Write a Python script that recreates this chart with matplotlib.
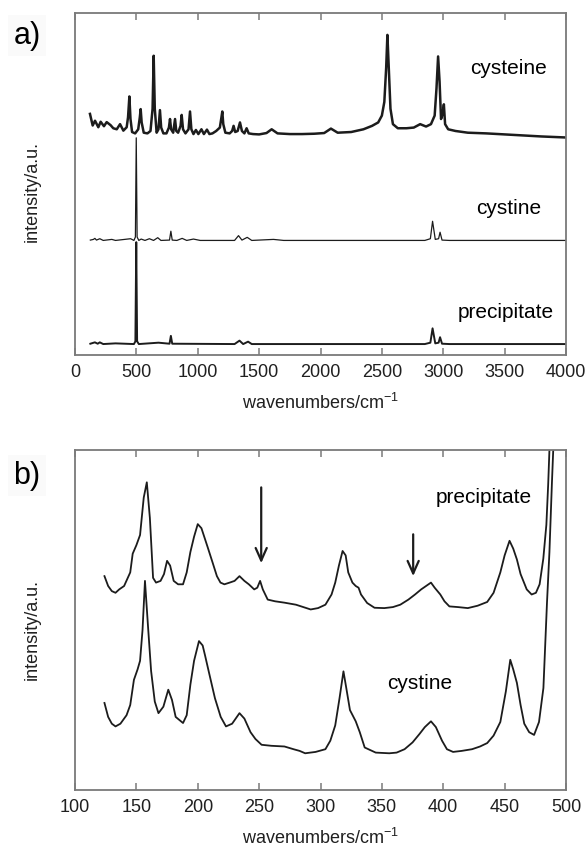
import matplotlib
matplotlib.use("Agg")
import matplotlib.pyplot as plt

plt.rcParams["font.family"] = ["Liberation Sans", "DejaVu Sans"]
plt.rcParams["mathtext.fontset"] = "custom"
plt.rcParams["mathtext.rm"] = "Liberation Sans"

# ---- panel a: full Raman spectra (wavenumber, intensity) ----
cysteine_wn = [122, 144, 163, 190, 209, 236, 258, 290, 312, 340, 367, 394, 421, 432, 443,
               452, 465, 490, 515, 528, 535, 543, 560, 590, 615, 632, 641, 650, 665, 680,
               692, 702, 720, 745, 765, 774, 783, 800, 815, 825, 840, 860, 869, 880, 900,
               925, 937, 948, 965, 985, 1005, 1030, 1050, 1075, 1095, 1120, 1150, 1180,
               1193, 1200, 1208, 1225, 1260, 1280, 1292, 1305, 1325, 1344, 1360, 1380,
               1398, 1415, 1450, 1500, 1560, 1602, 1650, 1750, 1850, 1950, 2030, 2085,
               2140, 2250, 2350, 2420, 2470, 2500, 2520, 2535, 2545, 2555, 2570, 2590,
               2630, 2700, 2760, 2812, 2860, 2900, 2930, 2945, 2958, 2970, 2982, 2995,
               3005, 3015, 3040, 3100, 3200, 3350, 3500, 3650, 3800, 4000]
cysteine_int = [70.5, 67.1, 68.5, 66.6, 68.2, 66.9, 68.1, 67.2, 66.3, 66.0, 67.5, 65.6, 66.6,
                69.5, 75.6, 69.0, 65.2, 64.8, 66.0, 69.5, 71.9, 68.0, 65.0, 64.8, 65.5,
                72.0, 87.5, 72.0, 65.0, 66.0, 71.6, 66.5, 64.8, 64.8, 66.5, 69.0, 66.0,
                65.0, 69.0, 65.5, 65.0, 67.0, 70.2, 66.0, 64.8, 66.0, 71.2, 66.0, 64.6,
                65.8, 64.6, 66.0, 64.6, 65.9, 64.6, 64.8, 65.5, 66.5, 69.5, 71.2, 67.5,
                65.0, 64.8, 65.5, 67.0, 65.2, 65.5, 68.0, 65.5, 64.8, 66.3, 64.8, 64.6,
                64.5, 64.9, 66.0, 64.8, 64.6, 64.6, 64.7, 64.9, 66.2, 65.0, 65.2, 66.0,
                67.0, 68.0, 70.0, 74.0, 84.0, 93.6, 85.0, 72.0, 67.5, 66.3, 66.3, 66.5,
                67.5, 66.8, 67.5, 70.0, 78.0, 87.3, 80.0, 69.0, 70.5, 73.3, 67.5, 66.0,
                65.5, 65.0, 64.8, 64.5, 64.2, 63.9, 63.6]

cystine_wn = [125, 150, 162, 175, 202, 230, 300, 330, 453, 480, 492, 499, 506, 520, 539,
              570, 606, 640, 674, 700, 770, 781, 792, 830, 873, 910, 965, 1020, 1300,
              1332, 1360, 1403, 1440, 1617, 1700, 2850, 2895, 2913, 2935, 2962, 2974,
              2990, 3050, 4000]
cystine_int = [33.6, 33.8, 34.1, 33.6, 34.0, 33.5, 33.8, 33.5, 34.0, 33.5, 34.5, 63.5, 34.5,
               33.5, 33.9, 33.5, 34.0, 33.5, 34.3, 33.5, 33.6, 36.2, 33.6, 33.5, 34.1,
               33.5, 33.9, 33.5, 33.5, 34.9, 33.6, 34.4, 33.5, 33.8, 33.5, 33.5, 34.0,
               39.1, 33.8, 34.0, 35.9, 33.6, 33.5, 33.5]

precip_wn = [125, 162, 185, 202, 230, 330, 480, 492, 499, 506, 520, 680, 770, 781, 792,
             1300, 1340, 1370, 1410, 1440, 2850, 2895, 2913, 2935, 2962, 2974, 2990,
             3050, 4000]
precip_int = [3.3, 3.7, 3.3, 3.7, 3.2, 3.4, 3.2, 4.0, 33.0, 4.0, 3.2, 3.6, 3.3, 5.6, 3.3,
              3.2, 4.2, 3.2, 3.9, 3.2, 3.2, 3.6, 7.8, 3.4, 3.6, 5.2, 3.3, 3.2, 3.2]

# ---- panel b: low-wavenumber region ----
b_precip_wn = [124, 127, 130, 133, 136, 140, 145, 147, 150, 153, 156, 158.5, 161, 163.6,
               166, 169.7, 172.5, 175, 177.5, 180.4, 184, 188, 191, 194, 197, 200, 203,
               208, 212, 215.6, 218.5, 221.7, 226, 230, 234, 238, 241.6, 246, 248.5,
               250.8, 253, 257, 263, 270.6, 280, 292, 298, 304, 309, 312, 315, 318,
               320.5, 322.6, 326, 328.7, 331, 333, 338, 344, 352, 359, 365, 371.6, 377,
               382, 386, 390, 393, 397.6, 401, 405, 412, 420, 428, 435.8, 441, 446.5,
               450, 454, 457, 460, 463, 468, 472, 475.5, 478.5, 481.5, 484, 485.5, 486.5,
               488]
b_precip_int = [62.9, 60.0, 58.5, 58.0, 59.0, 60.0, 64.0, 69.5, 72.0, 75.0, 86.0, 90.5,
                80.0, 62.4, 61.0, 61.5, 63.5, 67.4, 66.0, 61.5, 60.5, 60.5, 64.0, 70.0,
                74.5, 78.2, 77.0, 71.5, 67.0, 62.9, 61.0, 60.5, 61.0, 61.5, 62.9, 61.5,
                60.5, 59.0, 59.5, 61.5, 59.0, 56.0, 55.5, 55.1, 54.5, 53.1, 53.5, 54.5,
                57.5, 61.0, 66.0, 70.3, 69.0, 64.0, 61.0, 60.0, 59.5, 57.5, 55.0, 53.6,
                53.5, 53.8, 54.5, 56.0, 57.5, 59.0, 60.0, 61.0, 59.5, 57.5, 55.5, 54.0,
                53.8, 53.5, 54.2, 55.3, 58.0, 64.0, 69.0, 73.3, 71.0, 67.8, 63.5, 59.0,
                57.5, 58.0, 60.5, 68.0, 78.0, 90.0, 100.0, 115.0]

b_cystine_wn = [124, 127, 130, 133, 137, 142, 145, 148, 151, 153, 155, 157, 159.5, 162,
                165, 168, 172, 176, 179, 182, 188, 191, 194, 197, 201, 204, 206, 209.5,
                214, 218.7, 223, 228, 234, 238, 243, 247, 252, 260, 270.6, 278, 283,
                287.5, 296, 304, 308, 312, 315.5, 318.7, 321, 324, 328.7, 332, 336, 345,
                356, 362, 368.5, 375, 380.7, 385, 390, 394, 399, 403, 408, 415, 423.5,
                430, 435.8, 441, 446.5, 451, 454.6, 457, 460, 463, 466, 470, 474, 478,
                481.6, 484.5, 486.5, 488.5, 489.6, 490.5]
b_cystine_int = [25.6, 21.5, 19.5, 18.7, 19.5, 22.0, 25.0, 32.4, 35.5, 38.0, 47.0, 61.5,
                 48.0, 35.0, 26.0, 22.6, 24.5, 29.5, 26.5, 21.5, 19.7, 22.0, 31.0, 38.0,
                 43.8, 42.5, 39.5, 34.0, 27.0, 21.5, 18.7, 19.5, 22.6, 21.0, 17.0, 15.0,
                 13.3, 13.0, 12.8, 12.0, 11.5, 10.8, 11.2, 12.0, 14.5, 19.0, 27.0, 34.9,
                 30.0, 23.5, 20.2, 17.0, 12.5, 11.0, 10.8, 11.0, 12.0, 14.0, 16.5, 18.5,
                 20.2, 18.5, 14.5, 12.0, 11.2, 11.5, 12.0, 12.8, 13.8, 16.0, 20.0, 29.0,
                 38.3, 35.5, 31.5, 25.0, 19.5, 17.0, 16.2, 20.0, 30.0, 55.0, 70.0, 90.0,
                 100.0, 115.0]

# arrows marking the new bands of the precipitate: (wavenumber, tail, head)
arrow_wn = [251.7, 375.5]
arrow_tail = [89.0, 75.2]
arrow_head = [66.7, 62.9]

W, H = 587, 854
fig = plt.figure(figsize=(W / 100, H / 100), dpi=100)
ax_a = fig.add_axes([75 / W, 1 - 356 / H, 491 / W, 342 / H])
ax_b = fig.add_axes([75 / W, 1 - 791 / H, 491 / W, 340 / H])

spine_col = "#7a7a7a"
line_col = "#1c1c1c"


def style_axes(ax):
    for sp in ax.spines.values():
        sp.set_color(spine_col)
        sp.set_linewidth(1.3)
    ax.tick_params(axis="x", direction="in", top=True, length=5, width=1.1,
                   color=spine_col, labelsize=13, labelcolor="#202020", pad=6)
    ax.tick_params(axis="y", left=False, right=False, labelleft=False)
    ax.set_xlabel("wavenumbers/cm$^{\\mathregular{-1}}$", fontsize=13, color="#202020",
                  labelpad=8)


# panel a
ax_a.plot(cysteine_wn, cysteine_int, color=line_col, lw=1.8)
ax_a.plot(cystine_wn, cystine_int, color=line_col, lw=0.9)
ax_a.plot(precip_wn, precip_int, color=line_col, lw=1.4)
ax_a.set_xlim(0, 4000)
ax_a.set_ylim(0, 100)
ax_a.set_xticks(range(0, 4001, 500))
ax_a.text(3530, 84, "cysteine", fontsize=15, ha="center", va="center")
ax_a.text(3535, 43, "cystine", fontsize=15, ha="center", va="center")
ax_a.text(3510, 12.7, "precipitate", fontsize=15, ha="center", va="center")
style_axes(ax_a)

# panel b
ax_b.plot(b_precip_wn, b_precip_int, color=line_col, lw=1.3)
ax_b.plot(b_cystine_wn, b_cystine_int, color=line_col, lw=1.3)
ax_b.set_xlim(100, 500)
ax_b.set_ylim(0, 100)
ax_b.set_xticks(range(100, 501, 50))
ax_b.text(432.7, 86.3, "precipitate", fontsize=15, ha="center", va="center")
ax_b.text(380.7, 31.5, "cystine", fontsize=15, ha="center", va="center")
for x, y0, y1 in zip(arrow_wn, arrow_tail, arrow_head):
    ax_b.annotate("", xy=(x, y1), xytext=(x, y0),
                  arrowprops=dict(arrowstyle="->,head_length=0.9,head_width=0.4",
                                  color=line_col, lw=1.6, shrinkA=0, shrinkB=0))
style_axes(ax_b)

# panel letters and y labels
fig.text(27 / W, 1 - 36 / H, "a)", fontsize=22, ha="center", va="center",
         bbox=dict(facecolor="#fafafa", edgecolor="none", pad=4))
fig.text(27 / W, 1 - 476 / H, "b)", fontsize=22, ha="center", va="center",
         bbox=dict(facecolor="#fafafa", edgecolor="none", pad=4))
fig.text(32 / W, 1 - 192 / H, "intensity/a.u.", fontsize=13, rotation=90,
         ha="center", va="center", color="#202020")
fig.text(32 / W, 1 - 630 / H, "intensity/a.u.", fontsize=13, rotation=90,
         ha="center", va="center", color="#202020")

fig.savefig("out.png", dpi=100)
